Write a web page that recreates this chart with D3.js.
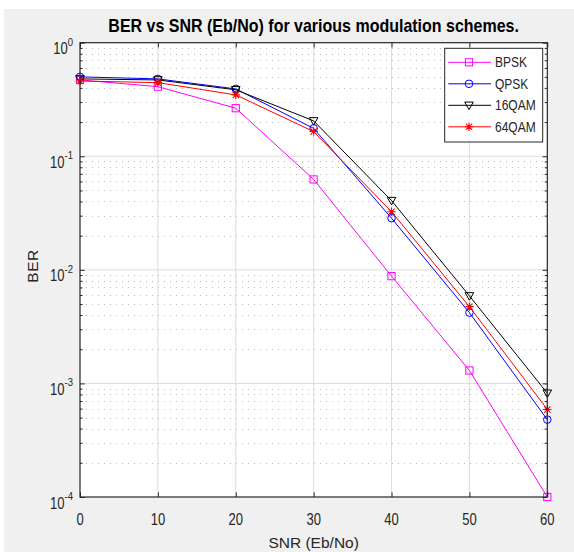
<!DOCTYPE html>
<html>
<head>
<meta charset="utf-8">
<script src="https://cdn.jsdelivr.net/npm/d3@7"></script>
<style>
  html, body { margin: 0; padding: 0; background: #f0f0f0; }
  svg { display: block; }
  text { font-family: "Liberation Sans", Arial, Helvetica, sans-serif; }
</style>
</head>
<body>
<svg id="chart" width="574" height="552"></svg>
<script>
// ---- data ----
const snr = [0, 10, 20, 30, 40, 50, 60];
const bpsk  = [0.47, 0.41, 0.265, 0.0625, 0.0088, 0.0013, 0.0001];
const qpsk  = [0.50, 0.48, 0.392, 0.176, 0.0285, 0.0042, 0.00048];
const qam16 = [0.48, 0.47, 0.385, 0.205, 0.0407, 0.0059, 0.00082];
const qam64 = [0.46, 0.445, 0.347, 0.165, 0.0325, 0.00474, 0.00059];
const seriesNames = ["BPSK", "QPSK", "16QAM", "64QAM"];
const xTicks = [0, 10, 20, 30, 40, 50, 60];
const yExponents = [0, -1, -2, -3, -4];
const titleText = "BER vs SNR (Eb/No) for various modulation schemes.";
const xLabel = "SNR (Eb/No)";
const yLabel = "BER";

// ---- layout ----
const L = 80, R = 547.3, T = 42.7, B = 497;
const svg = d3.select("#chart");
const x = d3.scaleLinear().domain([0, 60]).range([L, R]);
const y = d3.scaleLog().domain([1e-4, 1]).range([B, T]);

const series = [
  { name: seriesNames[0], values: bpsk,  color: "#ff00ff", marker: "square" },
  { name: seriesNames[1], values: qpsk,  color: "#0000ff", marker: "circle" },
  { name: seriesNames[2], values: qam16, color: "#000000", marker: "triangle" },
  { name: seriesNames[3], values: qam64, color: "#ff0000", marker: "star" }
];

// background
svg.append("rect").attr("width", 574).attr("height", 552).attr("fill", "#f0f0f0");
svg.append("rect").attr("width", 574).attr("height", 9).attr("fill", "#ffffff");
svg.append("rect").attr("width", 4).attr("height", 552).attr("fill", "#ffffff");

// plot area
svg.append("rect").attr("x", L).attr("y", T).attr("width", R - L).attr("height", B - T).attr("fill", "#ffffff");

// minor grid (log)
const minorVals = [];
for (let e = -4; e < 0; e++) {
  for (let m = 2; m <= 9; m++) minorVals.push(m * Math.pow(10, e));
}
const grid = svg.append("g");
grid.selectAll("line.minor").data(minorVals).join("line")
  .attr("x1", L).attr("x2", R)
  .attr("y1", d => Math.round(y(d)) + 0.5).attr("y2", d => Math.round(y(d)) + 0.5)
  .attr("stroke", "#bdbdbd").attr("stroke-width", 1).attr("stroke-dasharray", "1,5");

// major grid
grid.selectAll("line.vx").data(xTicks.slice(1, -1)).join("line")
  .attr("x1", d => x(d)).attr("x2", d => x(d)).attr("y1", T).attr("y2", B)
  .attr("stroke", "#dcdcdc").attr("stroke-width", 1);
grid.selectAll("line.hy").data(yExponents.slice(1, -1)).join("line")
  .attr("class", "hy")
  .attr("x1", L).attr("x2", R)
  .attr("y1", d => y(Math.pow(10, d))).attr("y2", d => y(Math.pow(10, d)))
  .attr("stroke", "#dcdcdc").attr("stroke-width", 1);

// markers
function drawMarker(g, type, cx, cy, color) {
  if (type === "square") {
    g.append("rect").attr("x", cx - 3.6).attr("y", cy - 3.6).attr("width", 7.2).attr("height", 7.2)
      .attr("fill", "none").attr("stroke", color).attr("stroke-width", 1);
  } else if (type === "circle") {
    g.append("circle").attr("cx", cx).attr("cy", cy).attr("r", 3.8)
      .attr("fill", "none").attr("stroke", color).attr("stroke-width", 1);
  } else if (type === "triangle") {
    const s = 4.3;
    g.append("path").attr("d", `M${cx - s},${cy - s * 0.75}L${cx + s},${cy - s * 0.75}L${cx},${cy + s}Z`)
      .attr("fill", "none").attr("stroke", color).attr("stroke-width", 1);
  } else if (type === "star") {
    const s = 4.2, d = s * 0.75;
    g.append("path").attr("d",
      `M${cx - s},${cy}L${cx + s},${cy}M${cx},${cy - s}L${cx},${cy + s}` +
      `M${cx - d},${cy - d}L${cx + d},${cy + d}M${cx - d},${cy + d}L${cx + d},${cy - d}`)
      .attr("fill", "none").attr("stroke", color).attr("stroke-width", 1.1);
  }
}

const line = d3.line().x(d => x(d[0])).y(d => y(d[1]));
const plotG = svg.append("g");
series.forEach(s => {
  const pts = snr.map((v, i) => [v, s.values[i]]);
  plotG.append("path").datum(pts).attr("d", line)
    .attr("fill", "none").attr("stroke", s.color).attr("stroke-width", 1);
  const mg = plotG.append("g");
  pts.forEach(p => drawMarker(mg, s.marker, x(p[0]), y(p[1]), s.color));
});

// axes box
const axisColor = "#262626";
const axG = svg.append("g").attr("stroke", axisColor).attr("fill", "none");
axG.append("rect").attr("x", L).attr("y", T).attr("width", R - L).attr("height", B - T)
  .attr("stroke-width", 1.2);

const MAJ = 4.7, MIN = 2.6;
const xb = svg.append("g").attr("transform", `translate(0,${B})`)
  .call(d3.axisBottom(x).tickValues(xTicks).tickSize(-MAJ).tickSizeOuter(0).tickFormat(""));
const xt = svg.append("g").attr("transform", `translate(0,${T})`)
  .call(d3.axisTop(x).tickValues(xTicks).tickSize(-MAJ).tickSizeOuter(0).tickFormat(""));
const yl = svg.append("g").attr("transform", `translate(${L},0)`)
  .call(d3.axisLeft(y).tickValues(yExponents.map(e => Math.pow(10, e))).tickSize(-MAJ).tickSizeOuter(0).tickFormat(""));
const yr = svg.append("g").attr("transform", `translate(${R},0)`)
  .call(d3.axisRight(y).tickValues(yExponents.map(e => Math.pow(10, e))).tickSize(-MAJ).tickSizeOuter(0).tickFormat(""));
const ylm = svg.append("g").attr("transform", `translate(${L},0)`)
  .call(d3.axisLeft(y).tickValues(minorVals).tickSize(-MIN).tickSizeOuter(0).tickFormat(""));
const yrm = svg.append("g").attr("transform", `translate(${R},0)`)
  .call(d3.axisRight(y).tickValues(minorVals).tickSize(-MIN).tickSizeOuter(0).tickFormat(""));
[xb, xt, yl, yr, ylm, yrm].forEach(g => {
  g.select(".domain").remove();
  g.selectAll(".tick line").attr("stroke", axisColor).attr("stroke-width", 1);
});

// x tick labels
const labG = svg.append("g").attr("fill", "#262626");
xTicks.forEach(t => {
  labG.append("g").attr("transform", `translate(${x(t)},${B + 28}) scale(1,1.22)`)
    .append("text").attr("text-anchor", "middle").attr("font-size", 13).text(t);
});
// y tick labels: 10^e
yExponents.forEach(e => {
  const py = y(Math.pow(10, e));
  const g = labG.append("g").attr("transform", `translate(73,${py + 11.5}) scale(1,1.22)`);
  const t = g.append("text").attr("text-anchor", "end").attr("font-size", 13);
  t.append("tspan").text("10");
  t.append("tspan").attr("font-size", 9.5).attr("dy", -7).text(String(e));
});

// title
svg.append("g").attr("transform", `translate(${(L + R) / 2},32.3) scale(1,1.15)`)
  .append("text").attr("text-anchor", "middle").attr("font-size", 16).attr("font-weight", "bold")
  .attr("fill", "#000").text(titleText);

// axis labels
svg.append("text").attr("x", (L + R) / 2).attr("y", 548).attr("text-anchor", "middle")
  .attr("font-size", 15.5).attr("fill", "#262626").text(xLabel);
svg.append("text").attr("transform", `translate(37.8,266) rotate(-90)`).attr("text-anchor", "middle")
  .attr("font-size", 15.5).attr("letter-spacing", 0.5).attr("fill", "#262626").text(yLabel);

// legend
const lg = svg.append("g");
const lx0 = 444.7, ly0 = 48.3, lw = 98, lh = 93.7;
lg.append("rect").attr("x", lx0).attr("y", ly0).attr("width", lw).attr("height", lh)
  .attr("fill", "#ffffff").attr("stroke", axisColor).attr("stroke-width", 1);
series.forEach((s, i) => {
  const cy = 62.3 + i * 21.5;
  lg.append("line").attr("x1", 448.3).attr("x2", 491).attr("y1", cy).attr("y2", cy)
    .attr("stroke", s.color).attr("stroke-width", 1);
  drawMarker(lg, s.marker, 469, cy, s.color);
  lg.append("g").attr("transform", `translate(495,${cy + 5}) scale(1,1.17)`)
    .append("text").attr("font-size", 12).attr("fill", "#262626").text(s.name);
});
</script>
</body>
</html>
